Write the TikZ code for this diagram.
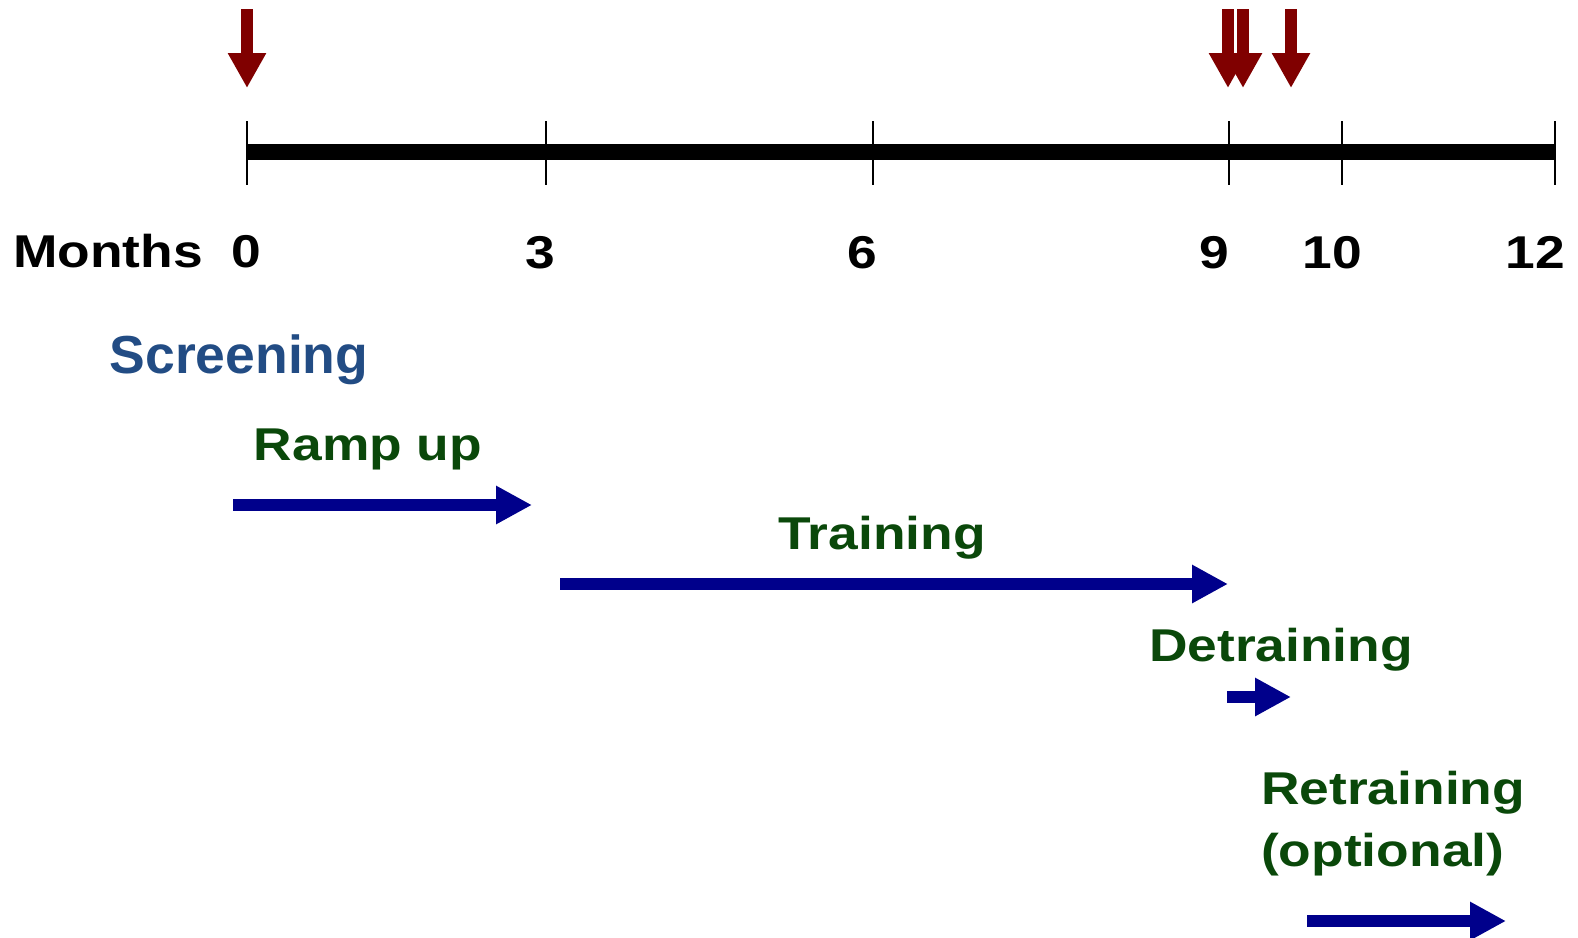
\documentclass[tikz,border=0pt]{standalone}
\usepackage{fontspec}
\setmainfont{Liberation Sans}
\usetikzlibrary{arrows.meta}
\definecolor{evtred}{RGB}{128,0,0}
\definecolor{phaseblue}{RGB}{0,0,139}
\definecolor{phasegreen}{RGB}{10,72,10}
\definecolor{screenblue}{RGB}{34,76,132}
\newcommand{\wide}[1]{\scalebox{1.16}[1]{#1}}
\tikzset{
  lbl/.style={inner sep=0pt, font=\fontsize{46}{52}\selectfont\bfseries},
  phase/.style={lbl, text=phasegreen},
  event/.style={evtred, line width=12pt, -{Triangle[length=35pt,width=36pt]}},
  span/.style={phaseblue, line width=12pt, -{Triangle[length=36pt,width=36pt]}},
  tick/.style={black, line width=2.5pt},
}
\begin{document}
\begin{tikzpicture}[x=1pt,y=-1pt]
\useasboundingbox (0,0) rectangle (1578,937);

% study events above the time axis
\coordinate (e0a) at (247,9);    \coordinate (e0b) at (247,88);
\coordinate (e1a) at (1228,9);   \coordinate (e1b) at (1228,88);
\coordinate (e2a) at (1243,9);   \coordinate (e2b) at (1243,88);
\coordinate (e3a) at (1291,9);   \coordinate (e3b) at (1291,88);
\draw[event] (e0a) -- (e0b);
\draw[event] (e1a) -- (e1b);
\draw[event] (e2a) -- (e2b);
\draw[event] (e3a) -- (e3b);

% time axis with month ticks
\coordinate (t0) at (247,152);
\coordinate (t3) at (546,152);
\coordinate (t6) at (873,152);
\coordinate (t9) at (1229,152);
\coordinate (t10) at (1342,152);
\coordinate (t12) at (1555,152);
\draw[line width=16pt] (t0) -- (t12);
\foreach \t in {t0,t3,t6,t9,t10,t12}
  \draw[tick] ([yshift=31pt]\t) -- ([yshift=-33pt]\t);

% axis labels
\node[lbl, anchor=base] (months) at (108,267) {\wide{Months}};
\node[lbl, anchor=base] (m0) at (246,267) {\wide{0}};
\node[lbl, anchor=base] (m3) at (540,268) {\wide{3}};
\node[lbl, anchor=base] (m6) at (862,268) {\wide{6}};
\node[lbl, anchor=base] (m9) at (1214,268) {\wide{9}};
\node[lbl, anchor=base] (m10) at (1332,268) {\wide{10}};
\node[lbl, anchor=base] (m12) at (1535,268) {\wide{12}};

% study phases
\node[inner sep=0pt, anchor=base, text=screenblue, font=\fontsize{53.5}{60}\selectfont\bfseries] (scr) at (239,373) {Screening};

\node[phase, anchor=base] (ramp) at (368,460) {\wide{Ramp up}};
\coordinate (r1) at (233,505); \coordinate (r2) at (532,505);
\draw[span] (r1) -- (r2);

\node[phase, anchor=base] (train) at (882,549) {\wide{Training}};
\coordinate (tr1) at (560,584); \coordinate (tr2) at (1228,584);
\draw[span] (tr1) -- (tr2);

\node[phase, anchor=base] (detr) at (1281,661) {\wide{Detraining}};
\coordinate (d1) at (1227,697); \coordinate (d2) at (1291,697);
\draw[span] (d1) -- (d2);

\node[phase, anchor=base west] (retr) at (1261,804) {\wide{Retraining}};
\node[phase, anchor=base west] (opt) at (1261,866) {\wide{(optional)}};
\coordinate (rt1) at (1307,921); \coordinate (rt2) at (1506,921);
\draw[span] (rt1) -- (rt2);
\end{tikzpicture}
\end{document}
